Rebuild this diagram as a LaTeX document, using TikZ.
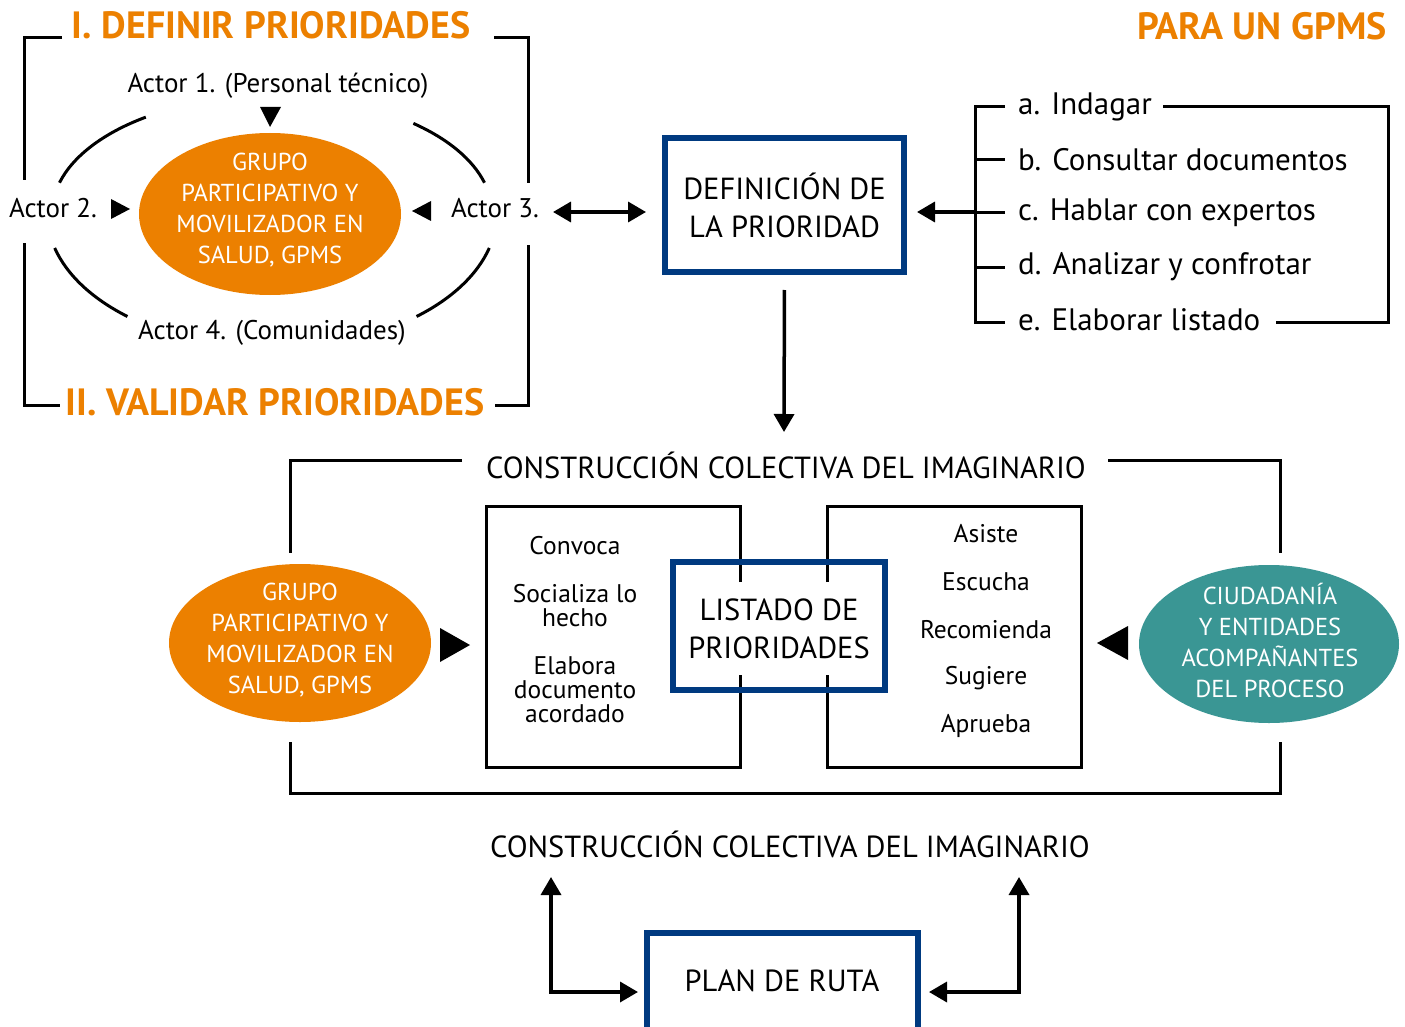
\documentclass[tikz,border=0pt]{standalone}
\usepackage{fontspec}
\setmainfont{PT Sans}
\usetikzlibrary{arrows.meta,shapes.geometric}
\definecolor{org}{RGB}{236,128,0}
\definecolor{blu}{RGB}{0,58,128}
\definecolor{tea}{RGB}{58,150,148}
\tikzset{
  lbl/.style={font=\fontsize{27}{30}\selectfont, inner sep=0pt},
  lst/.style={font=\fontsize{31}{34}\selectfont, inner sep=0pt, anchor=west},
  con/.style={font=\fontsize{30.5}{34}\selectfont, inner sep=0pt},
  stk/.style={font=\fontsize{25.5}{24}\selectfont, inner sep=0pt, align=center},
  big/.style={font=\fontsize{30.5}{38}\selectfont, inner sep=0pt, align=center},
  ttl/.style={font=\bfseries\fontsize{38}{40}\selectfont, text=org, inner sep=0pt},
  etext/.style={font=\fontsize{24.5}{31}\selectfont, text=white, align=center, inner sep=0pt},
  bluebox/.style={draw=blu, line width=6pt, inner sep=0pt},
  ln/.style={line width=3pt},
  arr/.style={line width=3.5pt, -{Triangle[length=18pt,width=20pt]}},
  darr/.style={line width=3.5pt, {Triangle[length=18pt,width=20pt]}-{Triangle[length=18pt,width=20pt]}},
  tri/.style={fill=black},
  oval/.style={ellipse, inner sep=0pt, minimum width=262pt, minimum height=158pt},
}
\begin{document}
\begin{tikzpicture}[x=1pt,y=-1pt]
\useasboundingbox[fill=white] (0,0) rectangle (1405,1027);

% ---------- top-left block ----------
\node[ttl] (t1) at (271,25) {I. DEFINIR PRIORIDADES};
\node[ttl] (t2) at (275,402) {II. VALIDAR PRIORIDADES};
\draw[ln] (62,38) -- (24,38) -- (24,180);
\draw[ln] (494,38) -- (528,38) -- (528,183);
\draw[ln] (24,243) -- (24,405) -- (60,405);
\draw[ln] (528,245) -- (528,405) -- (495,405);

\node[lbl] (a1) at (278,86) {Actor 1. (Personal técnico)};
\node[lbl] (a2) at (53,208) {Actor 2.};
\node[lbl] (a3) at (495,208) {Actor 3.};
\node[lbl] (a4) at (272,333) {Actor 4. (Comunidades)};

\node[oval, fill=org, minimum height=162pt] (g1) at (270,214) {};
\node[etext] (g1t) at (270,210) {GRUPO\\PARTICIPATIVO Y\\MOVILIZADOR EN\\SALUD, GPMS};

\fill[tri] (260,107) -- (281,107) -- (270,127) -- cycle;
\fill[tri] (111,199) -- (111,219) -- (130,209) -- cycle;
\fill[tri] (431,201) -- (431,221) -- (412,211) -- cycle;

\draw[ln] (59.5,182.7) arc[start angle=195, end angle=235, x radius=220, y radius=117];
\draw[ln] (413.4,123.4) arc[start angle=310, end angle=345, x radius=220, y radius=117];
\draw[ln] (54.7,248) arc[start angle=165, end angle=130, x radius=225, y radius=135];
\draw[ln] (489.3,248) arc[start angle=15, end angle=50, x radius=225, y radius=135];

% ---------- definition box ----------
\node[bluebox, minimum width=239pt, minimum height=134pt] (def) at (784.5,205) {};
\node[big] (deft) at (784.5,205) {DEFINICIÓN DE\\LA PRIORIDAD};
\coordinate (dl) at (553,212);
\coordinate (dr) at (646,212);
\draw[darr] (dl) -- (dr);

% ---------- list ----------
\node[ttl, anchor=east] (para) at (1387,26) {PARA UN GPMS};
\node[lst] (la) at (1018,107) {a. Indagar};
\node[lst] (lb) at (1018,160) {b. Consultar documentos};
\node[lst] (lc) at (1018,213) {c. Hablar con expertos};
\node[lst] (ld) at (1018,267) {d. Analizar y confrotar};
\node[lst] (le) at (1018,320) {e. Elaborar listado};
\draw[ln] (1005,107) -- (975,107) -- (975,322) -- (1005,322);
\draw[ln] (975,160) -- (1005,160);
\draw[ln] (975,213) -- (1005,213);
\draw[ln] (975,267) -- (1005,267);
\draw[ln] (1163,107) -- (1388,107) -- (1388,322) -- (1276,322);
\coordinate (lsp) at (975,212);
\draw[arr, shorten >=10pt] (lsp) -- (def.east |- lsp);

\coordinate (cc) at (784,432);
\draw[arr, shorten <=15pt] (def.south) -- (cc);

% ---------- construction frame ----------
\node[con] (c1) at (786,465) {CONSTRUCCIÓN COLECTIVA DEL IMAGINARIO};
\draw[ln] (462,460) -- (290,460) -- (290,553);
\draw[ln] (1108,460) -- (1280,460) -- (1280,553);
\draw[ln] (290,742) -- (290,793) -- (1280,793) -- (1280,742);

\node[oval, fill=org] (g2) at (300,643) {};
\node[etext] (g2t) at (300,640) {GRUPO\\PARTICIPATIVO Y\\MOVILIZADOR EN\\SALUD, GPMS};
\node[oval, fill=tea, minimum width=260pt] (ciu) at (1269,644) {};
\node[etext] (ciut) at (1270,640) {CIUDADANÍA\\Y ENTIDADES\\ACOMPAÑANTES\\DEL PROCESO};

\fill[tri] (440,628) -- (440,662) -- (470,645) -- cycle;
\fill[tri] (1128,626) -- (1128,660) -- (1097,643) -- cycle;

\draw[ln] (740,582) -- (740,506) -- (486,506) -- (486,767) -- (740,767) -- (740,675);
\draw[ln] (827,582) -- (827,506) -- (1081,506) -- (1081,767) -- (827,767) -- (827,675);
\node[bluebox, minimum width=212pt, minimum height=128pt] (lp) at (779,626) {};
\node[big] (lpt) at (779,629) {LISTADO DE\\PRIORIDADES};

\node[stk] (s1) at (575,546) {Convoca};
\node[stk] (s2) at (575,606) {Socializa lo\\hecho};
\node[stk] (s3) at (575,690) {Elabora\\documento\\acordado};
\node[stk] (r1) at (986,534) {Asiste};
\node[stk] (r2) at (986,582) {Escucha};
\node[stk] (r3) at (986,630) {Recomienda};
\node[stk] (r4) at (986,678) {Sugiere};
\node[stk] (r5) at (986,726) {Aprueba};

% ---------- bottom ----------
\node[con] (c2) at (790,844) {CONSTRUCCIÓN COLECTIVA DEL IMAGINARIO};
\node[bluebox, minimum width=271pt, minimum height=100pt] (plan) at (782.5,983) {};
\node[big] (plant) at (782,981) {PLAN DE RUTA};
\coordinate (bl) at (551,877);
\coordinate (br) at (1019,877);
\draw[darr, shorten >=6pt] (bl) -- (551,992) -- (plan.west |- 0,992);
\draw[darr, shorten >=8pt] (br) -- (1019,992) -- (plan.east |- 0,992);
\end{tikzpicture}
\end{document}
